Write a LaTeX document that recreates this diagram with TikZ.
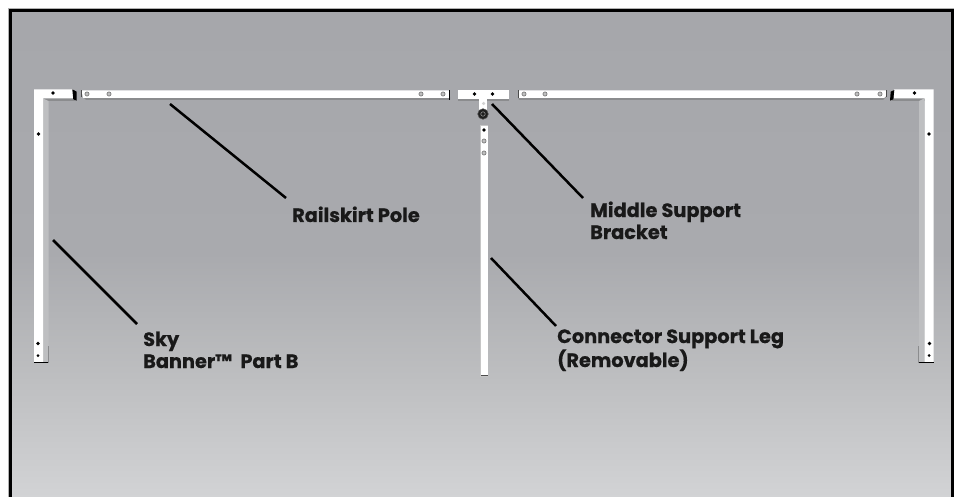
\documentclass[tikz,border=0pt]{standalone}
\usepackage{fontspec}
\newfontfamily\labfont{Poppins}[BoldFeatures={FakeBold=0.6}]
\definecolor{pbot}{HTML}{D2D3D5}
\definecolor{pmid}{HTML}{BDBEC0}
\definecolor{ptop2}{HTML}{A9AAAE}
\definecolor{ptop}{HTML}{A6A7AB}
\definecolor{shadeA}{HTML}{BEBFC1}
\definecolor{shadeB}{HTML}{8B8C8E}
\pgfdeclareverticalshading{panelbg}{100bp}{color(0bp)=(pbot); color(25bp)=(pbot); color(37.5bp)=(pmid); color(50bp)=(ptop2); color(75bp)=(ptop); color(100bp)=(ptop)}
\tikzset{
  x=1pt,y=-1pt,
  partfill/.style={fill=white,draw=none},
  sidefill/.style={fill=shadeA,draw=none},
  under/.style={fill=shadeB,draw=none},
  capfill/.style={fill=black,draw=none},
  leader/.style={draw=black,line width=2.5pt},
  hole/.style={circle,fill=black,inner sep=0pt,minimum size=3.8pt},
  screw/.style={circle,fill=gray!50,draw=black!60,line width=.5pt,inner sep=0pt,minimum size=4.2pt},
  lab/.style={font=\labfont\bfseries\fontsize{19.3pt}{22pt}\selectfont,text=black!90,inner sep=0pt,align=left,anchor=base west},
}
\begin{document}
\begin{tikzpicture}
\useasboundingbox (0,0) rectangle (963,497);
\fill[white] (0,0) rectangle (963,497);
% panel
\shade[shading=panelbg] (10,10) rectangle (953,497);
\draw[gray!60,line width=.7pt] (8.8,497)--(8.8,8.8)--(954,8.8);
\draw[black,line width=3pt] (10.5,497)--(10.5,10.5)--(952.5,10.5)--(952.5,497);
% left corner bracket
\fill[under] (43,98) rectangle (75,101);
\fill[sidefill] (43,98.5) -- (48.5,101) -- (48.5,363) -- (43,363) -- cycle;
\fill[partfill] (34,89.5) -- (73,89.5) -- (73,98.3) -- (43,98.3) -- (43,362) -- (34,362) -- cycle;
\fill[capfill] (72.3,89.3) -- (76.7,91.7) -- (76.7,100.7) -- (73.3,99.3) -- cycle;
\fill[black] (34,362) rectangle (48,363.2);
\fill[shadeB] (48,346) rectangle (49,363);
\node[hole] (la) at (53,93) {};
\node[hole] (lb) at (38.5,134) {};
\node[hole] (lc) at (38,343.5) {};
\node[hole,minimum size=3pt] (ld) at (38,355.5) {};
% left pole
\fill[under] (83,97) -- (450,97) -- (450,100) -- (86,100) -- cycle;
\fill[partfill] (81.5,90.5) -- (449,90.5) -- (449,98) -- (83,98) -- cycle;
\fill[black] (449,90.5) rectangle (450,100);
\fill[black!70] (81,90.5) rectangle (81.8,97);
\foreach \n/\px in {a/87,b/109,c/421,d/443}{\node[screw] (p1\n) at (\px,94) {};}
% middle bracket
\fill[under] (458,98) rectangle (509,101);
\fill[partfill] (457.5,90) rectangle (509,99);
\fill[partfill] (479,99) rectangle (487,110);
\node[circle,fill=gray!35,inner sep=0pt,minimum size=3.5pt] (mh) at (483.5,103.5) {};
\node[hole] (ma) at (474.5,94) {};
\node[hole] (mb) at (492.5,94) {};
\node[circle,fill=black!88,draw=black!70,line width=.6pt,inner sep=0pt,minimum size=10.5pt] (knob) at (483,114) {};
\node[circle,draw=gray!60,line width=.4pt,inner sep=0pt,minimum size=4.5pt] (knobin) at (483,114) {};
% centre leg
\fill[gray!45] (480.3,125.5) rectangle (488,376.5);
\fill[partfill] (481,126.3) rectangle (487.5,375);
\fill[black!70] (481,374.7) rectangle (487.5,375.7);
\node[hole] (ca) at (484,130) {};
\node[screw] (cb) at (484,141) {};
\node[screw] (cc) at (484,153) {};
% right pole
\fill[under] (518,97) -- (886,97) -- (883,100) -- (519,100) -- cycle;
\fill[partfill] (518.5,90.5) -- (886,90.5) -- (886,96) -- (884,98) -- (519,98) -- cycle;
\fill[black!70] (518,90.5) rectangle (518.8,98);
\fill[black!70] (886,90.5) rectangle (887,97);
\foreach \n/\px in {a/524,b/545,c/857,d/880}{\node[screw] (p2\n) at (\px,94) {};}
% right corner bracket
\fill[under] (892,98) rectangle (925,101);
\fill[sidefill] (924,98.5) -- (919,101) -- (919,362) -- (924,362) -- cycle;
\fill[partfill] (894,89.5) -- (933.5,89.5) -- (933.5,362) -- (924.5,362) -- (924.5,98.3) -- (894,98.3) -- cycle;
\fill[capfill] (894.3,90) -- (890.7,91.7) -- (890,100.7) -- (893.3,99.3) -- cycle;
\fill[black] (919,362) rectangle (934,363.2);
\fill[shadeB] (918,346) rectangle (919,363);
\node[hole] (ra) at (914.5,93) {};
\node[hole] (rb) at (929,134) {};
\node[hole] (rc) at (929.5,343.5) {};
\node[hole,minimum size=3pt] (rd) at (929,355.5) {};
% labels
\node[lab] (rail) at (292,222) {Railskirt Pole};
\node[lab] (mid) at (590,239) {Middle Support\\Bracket};
\node[lab] (conn) at (557,367) {Connector Support Leg\\(Removable)};
\node[lab] (sky) at (143,368) {Sky\\Banner™\ \ Part B};
% leaders
\coordinate (t1) at (170,104); \coordinate (e1) at (286,198);
\coordinate (t2) at (492,104); \coordinate (e2) at (583,198);
\coordinate (t3) at (53,240);  \coordinate (e3) at (137,324);
\coordinate (t4) at (491,258); \coordinate (e4) at (556,326);
\draw[leader] (t1) -- (e1);
\draw[leader] (t2) -- (e2);
\draw[leader] (t3) -- (e3);
\draw[leader] (t4) -- (e4);
\end{tikzpicture}
\end{document}
